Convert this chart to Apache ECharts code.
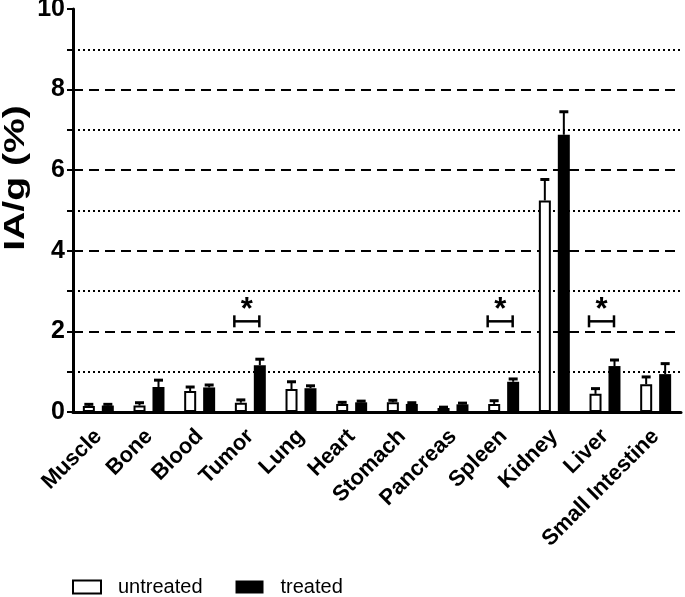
<!DOCTYPE html>
<html>
<head>
<meta charset="utf-8">
<script src="https://cdn.jsdelivr.net/npm/echarts@6/dist/echarts.min.js"></script>
<style>html,body{margin:0;padding:0;background:#fff}#c{width:685px;height:597px}</style>
</head>
<body>
<div id="c"></div>
<script>
const categories = ['Muscle','Bone','Blood','Tumor','Lung','Heart','Stomach','Pancreas','Spleen','Kidney','Liver','Small Intestine'];
const untreated    = [0.15, 0.16, 0.52, 0.23, 0.57, 0.20, 0.24, 0.10, 0.20, 5.25, 0.45, 0.69];
const untreatedErr = [0.04, 0.07, 0.10, 0.07, 0.18, 0.04, 0.05, 0.02, 0.08, 0.52, 0.13, 0.18];
const treated      = [0.16, 0.62, 0.61, 1.16, 0.59, 0.24, 0.20, 0.19, 0.75, 6.88, 1.14, 0.94];
const treatedErr   = [0.03, 0.17, 0.06, 0.15, 0.06, 0.03, 0.03, 0.03, 0.07, 0.57, 0.15, 0.26];
const significant  = ['Tumor','Spleen','Liver'];
const bracketLevel = 2.25;
const yTicks = [0, 2, 4, 6, 8, 10];
const yTitle = 'IA/g (%)';

const chart = echarts.init(document.getElementById('c'));
const FONT = 'Liberation Sans, Arial, sans-serif';
const OFF = 9.5;

function errSeries(name, vals, errs, dir) {
  return {
    type: 'custom', name: name + ' err', silent: true, z: 5,
    data: vals.map((v, i) => [i, v, errs[i]]),
    renderItem: (params, api) => {
      const x = api.coord([api.value(0), 0])[0] + dir * OFF;
      const top = api.coord([api.value(0), api.value(1)])[1];
      const cap = api.coord([api.value(0), api.value(1) + api.value(2)])[1];
      return { type: 'group', children: [
        { type: 'line', shape: { x1: x, y1: top, x2: x, y2: cap }, style: { stroke: '#000', lineWidth: 2 } },
        { type: 'line', shape: { x1: x - 4.5, y1: cap, x2: x + 4.5, y2: cap }, style: { stroke: '#000', lineWidth: 3 } }
      ]};
    }
  };
}

chart.setOption({
  animation: false,
  backgroundColor: '#fff',
  grid: { left: 73, right: 4, top: 9, bottom: 185, containLabel: false, outerBoundsMode: 'none' },
  graphic: [{
    type: 'text', x: 16, y: 178, rotation: Math.PI / 2, scaleX: 1.35, scaleY: 1,
    style: { text: yTitle, font: 'bold 29px ' + FONT, fill: '#000', textAlign: 'center', textVerticalAlign: 'middle' }
  }],
  legend: {
    left: 72, top: 577, padding: 0, itemWidth: 28, itemHeight: 13, itemGap: 33,
    textStyle: { fontFamily: FONT, fontSize: 20, color: '#000', padding: [0, 0, 0, 12] },
    data: [
      { name: 'untreated', icon: 'rect', itemStyle: { color: '#fff', borderColor: '#000', borderWidth: 2 } },
      { name: 'treated', icon: 'rect', itemStyle: { color: '#000' } }
    ]
  },
  xAxis: {
    type: 'category', data: categories, boundaryGap: true,
    axisLine: { lineStyle: { color: '#000', width: 3 } },
    axisTick: { alignWithLabel: true, length: 6, lineStyle: { color: '#000', width: 3 } },
    axisLabel: { rotate: 45, interval: 0, margin: 21, color: '#000', fontFamily: FONT, fontWeight: 'bold', fontSize: 22 }
  },
  yAxis: {
    type: 'value', min: 0, max: 10, interval: 2,
    axisLine: { show: true, lineStyle: { color: '#000', width: 3 } },
    axisTick: { show: true, length: 6, lineStyle: { color: '#000', width: 2 } },
    minorTick: { show: true, splitNumber: 2, length: 6, lineStyle: { color: '#000', width: 2 } },
    axisLabel: { color: '#000', fontFamily: FONT, fontWeight: 'bold', fontSize: 25, margin: 8,
      formatter: v => yTicks.includes(v) ? String(v) : '' },
    splitLine: { show: true, lineStyle: { color: ['transparent', '#000', '#000', '#000', '#000', 'transparent'], width: 2, type: [10, 6] } },
    minorSplitLine: { show: true, lineStyle: { color: '#000', width: 2, type: [2, 3] } }
  },
  series: [
    { type: 'bar', name: 'untreated', data: untreated, barWidth: 12, barGap: '58%',
      itemStyle: { color: '#fff', borderColor: '#000', borderWidth: 2 } },
    { type: 'bar', name: 'treated', data: treated, barWidth: 12,
      itemStyle: { color: '#000' } },
    errSeries('untreated', untreated, untreatedErr, -1),
    errSeries('treated', treated, treatedErr, 1),
    {
      type: 'custom', name: 'sig', silent: true, z: 6,
      data: significant.map(c => [categories.indexOf(c), bracketLevel]),
      renderItem: (params, api) => {
        const p = api.coord([api.value(0), api.value(1)]);
        const x1 = p[0] - 16, x2 = p[0] + 9, y = p[1];
        return { type: 'group', children: [
          { type: 'line', shape: { x1: x1, y1: y, x2: x2, y2: y }, style: { stroke: '#000', lineWidth: 2.5 } },
          { type: 'line', shape: { x1: x1, y1: y - 6, x2: x1, y2: y + 6 }, style: { stroke: '#000', lineWidth: 2.5 } },
          { type: 'line', shape: { x1: x2, y1: y - 6, x2: x2, y2: y + 6 }, style: { stroke: '#000', lineWidth: 2.5 } },
          { type: 'text', style: { text: '*', x: (x1 + x2) / 2, y: y + 5, textAlign: 'center', textVerticalAlign: 'bottom',
            font: 'bold 31px ' + FONT, fill: '#000' } }
        ]};
      }
    }
  ]
});
</script>
</body>
</html>
